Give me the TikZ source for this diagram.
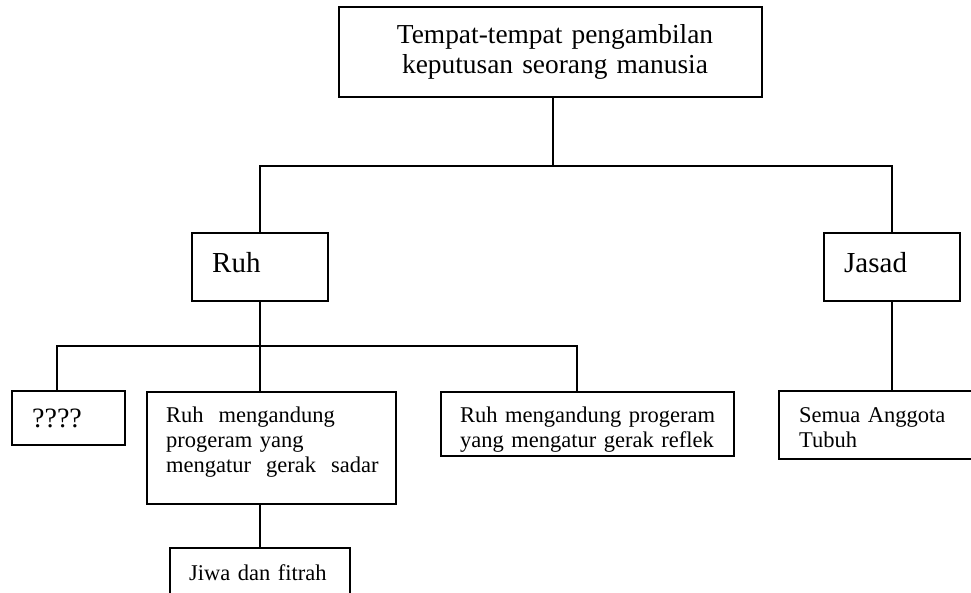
\documentclass[tikz,border=0pt]{standalone}
\usepackage{fontspec}
\setmainfont{Liberation Serif}
\begin{document}
\begin{tikzpicture}[x=1pt,y=-1pt,
  box/.style={draw,line width=1.7pt,inner sep=0pt,outer sep=0pt,anchor=north west},
  conn/.style={line width=1.7pt},
  big/.style={font=\fontsize{27.4}{30}\selectfont,inner sep=0pt},
  mid/.style={font=\fontsize{29}{32}\selectfont,inner sep=0pt,anchor=base west},
  small/.style={font=\fontsize{22.5}{25.5}\selectfont,inner sep=0pt,anchor=base west,text width=300pt,align=left}]
\useasboundingbox (0,0) rectangle (971,592);
% boxes
\node[box,minimum width=423pt,minimum height=90pt] (top) at (339,7) {};
\node[box,minimum width=136pt,minimum height=68pt] (ruh) at (192,233) {};
\node[box,minimum width=136pt,minimum height=68pt] (jasad) at (824,233) {};
\node[box,minimum width=113pt,minimum height=54pt] (q) at (12,391) {};
\node[box,minimum width=249pt,minimum height=112pt] (sadar) at (147,392) {};
\node[box,minimum width=293pt,minimum height=64pt] (reflex) at (441,392) {};
\node[box,minimum width=196pt,minimum height=68pt] (semua) at (779,391) {};
\node[box,minimum width=180pt,minimum height=48pt] (jiwa) at (170,548) {};
% texts
\node[big,anchor=base,align=center,text width=420pt] (ttop) at (555,43) {Tempat-tempat pengambilan\\keputusan seorang manusia};
\node[mid] (truh) at (212,272) {Ruh};
\node[mid] (tjasad) at (844,272) {Jasad};
\node[mid,font=\fontsize{28}{30}\selectfont] (tq) at (32,427) {????};
\node[small,font=\fontsize{22.5}{25}\selectfont] (tsadar) at (166,422) {Ruh\ \ mengandung\\progeram yang\\mengatur\ \ gerak\ \ sadar};
\node[small] (treflex) at (460,422) {Ruh mengandung progeram\\yang mengatur gerak reflek};
\node[small] (tsemua) at (799,422) {Semua Anggota\\Tubuh};
\node[small] (tjiwa) at (189,580) {Jiwa dan fitrah};
% connectors
\coordinate (bar1) at (553,166);
\coordinate (bar2) at (260,346);
\coordinate (cq) at (57,346);
\coordinate (cr) at (577,346);
\coordinate (cj) at (892,166);
\draw[conn] (top.south -| bar1) -- (bar1);
\draw[conn] (ruh.north -| bar2) |- (bar1) -| (jasad.north -| cj);
\draw[conn] (ruh.south -| bar2) -- (sadar.north -| bar2);
\draw[conn] (q.north -| cq) -- (cq) -- (cr) -- (reflex.north -| cr);
\draw[conn] (jasad.south -| cj) -- (semua.north -| cj);
\draw[conn] (sadar.south -| bar2) -- (jiwa.north -| bar2);
\end{tikzpicture}
\end{document}
